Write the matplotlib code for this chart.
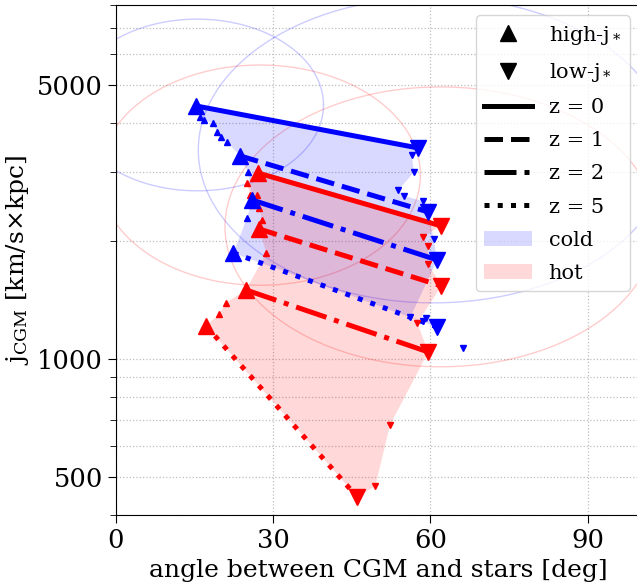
import numpy as np
import matplotlib
matplotlib.use('Agg')
from matplotlib import pyplot as plt
from matplotlib.lines import Line2D
from matplotlib.patches import Patch
from matplotlib.ticker import NullFormatter

plt.rcParams['font.family'] = 'DejaVu Serif'
plt.rcParams['mathtext.fontset'] = 'dejavuserif'

# angle between CGM and stars [deg] and j_CGM [km/s x kpc], each track ordered by redshift
cold_high_ang = [15.3, 16.1, 16.8, 18.5, 19.3, 20.1, 21.2, 23.7, 25.2, 26.0, 25.0, 22.4]
cold_high_j = [4420, 4143, 4071, 3999, 3794, 3684, 3578, 3296, 2999, 2544, 2289, 1864]
cold_low_ang = [57.7, 56.4, 56.9, 53.9, 55.0, 58.5, 59.6, 60.6, 61.3, 56.2, 58.5, 59.2, 66.3, 61.3]
cold_low_j = [3453, 3314, 2999, 2698, 2605, 2529, 2371, 2024, 1789, 1280, 1250, 1272, 1067, 1206]

hot_high_ang = [27.1, 25.0, 25.6, 26.9, 26.0, 27.3, 27.9, 27.3, 28.7, 24.8, 21.0, 19.7, 17.2]
hot_high_j = [2982, 2812, 2621, 2621, 2472, 2428, 2262, 2146, 1864, 1500, 1390, 1303, 1214]
hot_low_ang = [62.1, 58.5, 59.6, 59.6, 62.1, 57.5, 59.6, 52.3, 49.5, 46.0]
hot_low_j = [2184, 2048, 1943, 1747, 1536, 1235, 1042, 679, 474, 445]

# position of the z = 0, 1, 2, 5 snapshots in each track
cold_high_iz = [0, 7, 9, 11]
cold_low_iz = [0, 6, 8, 13]
hot_high_iz = [0, 7, 9, 12]
hot_low_iz = [0, 4, 6, 9]

redshifts = [0, 1, 2, 5]
z_styles = ['-', '--', '-.', ':']

# spread ellipses: centre angle [deg], centre j, half-width [deg], half-height [dex]
cold_ell_ang = [15.5, 60.6]
cold_ell_j = [4446, 3413]
cold_ell_w = [24.1, 44.9]
cold_ell_h = [0.219, 0.390]
hot_ell_ang = [27.5, 61.9]
hot_ell_j = [2944, 2173]
hot_ell_w = [30.6, 41.1]
hot_ell_h = [0.281, 0.357]

fig = plt.figure(figsize=(6.37, 5.84), dpi=100)
ax = fig.add_axes([0.1821, 0.1182, 0.8226, 0.8733])
ax.set_yscale('log')

t = np.linspace(0, 2 * np.pi, 300)
for col, e_ang, e_j, e_w, e_h in [('blue', cold_ell_ang, cold_ell_j, cold_ell_w, cold_ell_h),
                                  ('red', hot_ell_ang, hot_ell_j, hot_ell_w, hot_ell_h)]:
    for i in range(len(e_ang)):
        ex = e_ang[i] + e_w[i] * np.cos(t)
        ey = 10 ** (np.log10(e_j[i]) + e_h[i] * np.sin(t))
        ax.plot(ex, ey, color=col, lw=1, alpha=0.2, zorder=1)

phases = [
    ('blue', cold_high_ang, cold_high_j, cold_low_ang, cold_low_j, cold_high_iz, cold_low_iz),
    ('red', hot_high_ang, hot_high_j, hot_low_ang, hot_low_j, hot_high_iz, hot_low_iz),
]

for col, h_ang, h_j, l_ang, l_j, h_iz, l_iz in phases:
    # shaded area between the high-j and low-j tracks
    ax.fill(h_ang + l_ang[::-1], h_j + l_j[::-1], color=col, alpha=0.15, lw=0, zorder=2)

for col, h_ang, h_j, l_ang, l_j, h_iz, l_iz in phases:
    for k, ls in enumerate(z_styles):
        i, j = h_iz[k], l_iz[k]
        ax.plot([h_ang[i], l_ang[j]], [h_j[i], l_j[j]], color=col, ls=ls, lw=3.6, zorder=3)
    # intermediate snapshots
    hs = [i for i in range(len(h_ang)) if i not in h_iz]
    ls_ = [i for i in range(len(l_ang)) if i not in l_iz]
    ax.plot([h_ang[i] for i in hs], [h_j[i] for i in hs], '^', color=col, ms=5, ls='none', zorder=4)
    ax.plot([l_ang[i] for i in ls_], [l_j[i] for i in ls_], 'v', color=col, ms=5, ls='none', zorder=4)
    ax.plot([h_ang[i] for i in h_iz], [h_j[i] for i in h_iz], '^', color=col, ms=12, ls='none', zorder=5)
    ax.plot([l_ang[i] for i in l_iz], [l_j[i] for i in l_iz], 'v', color=col, ms=12, ls='none', zorder=5)

ax.set_xlim(0, 100)
ax.set_ylim(400, 8000)
ax.set_xticks([0, 30, 60, 90])
ax.set_yticks([500, 1000, 5000])
ax.set_yticklabels(['500', '1000', '5000'])
ax.yaxis.set_minor_formatter(NullFormatter())
ax.tick_params(which='major', length=6, labelsize=18.5)
ax.tick_params(which='minor', length=4)
ax.grid(True, which='both', ls=':', color='0.75', lw=0.9)
ax.set_axisbelow(True)

ax.set_xlabel('angle between CGM and stars [deg]', fontsize=18)
ax.set_ylabel(r'j$_{\rm CGM}$ [km/s$\times$kpc]', fontsize=18)

handles = [
    Line2D([], [], marker='^', color='k', ls='none', ms=12),
    Line2D([], [], marker='v', color='k', ls='none', ms=12),
]
labels = [r'high-j$_*$', r'low-j$_*$']
for z, ls in zip(redshifts, z_styles):
    handles.append(Line2D([], [], color='k', ls=ls, lw=3.6))
    labels.append(f'z = {z}')
handles += [Patch(facecolor='blue', alpha=0.15, lw=0), Patch(facecolor='red', alpha=0.15, lw=0)]
labels += ['cold', 'hot']
ax.legend(handles, labels, loc='upper right', fontsize=15, handlelength=2.3,
          labelspacing=0.68, borderaxespad=0.5)

plt.savefig('out.png', dpi=100)
